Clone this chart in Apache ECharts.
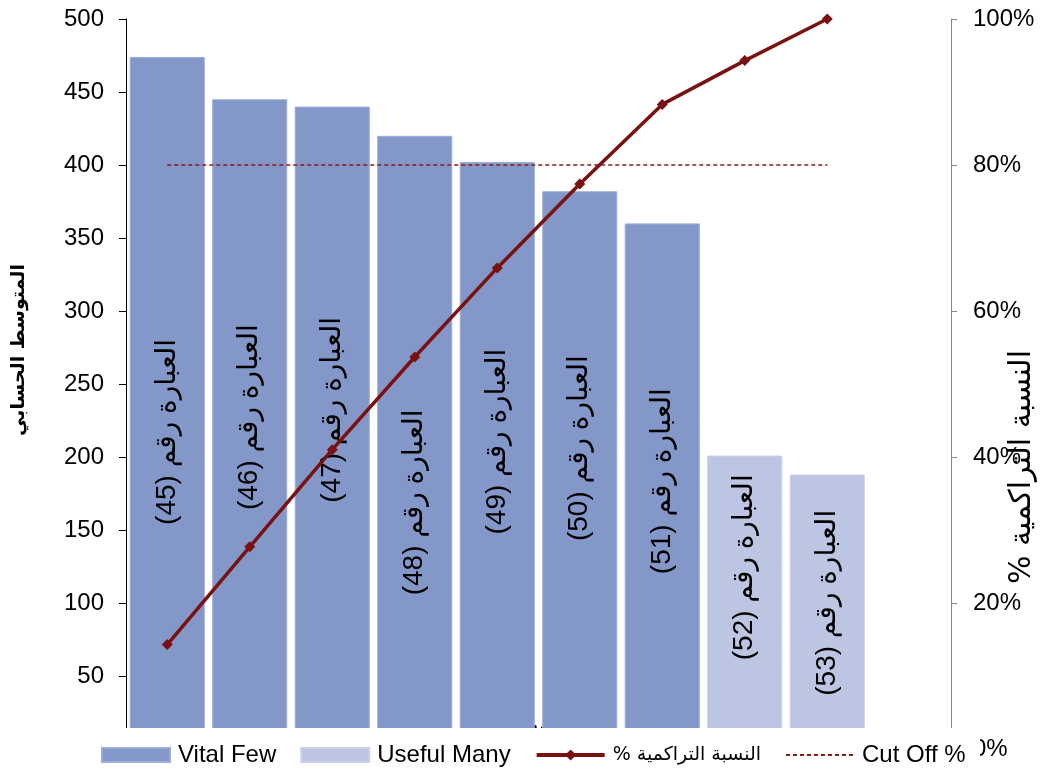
<!DOCTYPE html>
<html>
<head>
<meta charset="utf-8">
<script src="https://cdn.jsdelivr.net/npm/echarts@6/dist/echarts.min.js"></script>
<style>
  html, body { margin: 0; padding: 0; background: #ffffff; }
  #chart { width: 1046px; height: 769px; }
</style>
</head>
<body>
<div id="chart"></div>
<script>
// Pareto chart: mean score per statement with cumulative percentage
const categories = [
  'العبارة رقم (45)', 'العبارة رقم (46)', 'العبارة رقم (47)',
  'العبارة رقم (48)', 'العبارة رقم (49)', 'العبارة رقم (50)',
  'العبارة رقم (51)', 'العبارة رقم (52)', 'العبارة رقم (53)', ''
];
const vitalFew   = [474, 445, 440, 420, 402, 382, 360, '-', '-', '-'];
const usefulMany = ['-', '-', '-', '-', '-', '-', '-', 201, 188, '-'];
const cumulativePct = [14.3, 27.7, 41.0, 53.7, 65.9, 77.4, 88.3, 94.3, 100, '-'];
const cutOffPct = [80, 80, 80, 80, 80, 80, 80, 80, 80, '-'];

const leftAxisTitle = 'المتوسط الحسابي';
const rightAxisTitle = 'النسبة التراكمية %';
const xAxisTitle = 'الأبعاد';
const seriesNames = ['Vital Few', 'Useful Many', 'النسبة التراكمية %', 'Cut Off %'];

// vertical shift (px, downwards) of each rotated bar caption from the bar centre
const captionShift = [29, -7, -18, 60, -14, -22, -5, -35, -9, 0];

// wrap Arabic strings in a right-to-left embedding so punctuation lands correctly
const rtl = s => '\u202B' + s + '\u202C';

const RED = '#7a1111';
const arFont = 'DejaVu Sans, Liberation Sans, sans-serif';
const latFont = 'Liberation Sans, Arial, DejaVu Sans, sans-serif';

function barData(values) {
  return values.map((v, i) => ({
    value: v,
    // offset is applied before the 90° turn, so x here moves the caption vertically
    label: { offset: [-captionShift[i], 0] }
  }));
}

const barLabel = {
  show: true,
  position: 'inside',
  rotate: 90,
  color: '#000',
  fontSize: 28,
  fontFamily: latFont,
  formatter: p => rtl(p.name)
};

const chart = echarts.init(document.getElementById('chart'), null, { renderer: 'canvas' });
chart.setOption({
  backgroundColor: '#ffffff',
  animation: false,
  grid: {
    left: 126, right: 95, top: 19, bottom: 20,
    containLabel: false,
    outerBoundsMode: 'none'
  },
  legend: {
    left: 96,
    top: 738,
    itemWidth: 68,
    itemHeight: 14,
    itemGap: 24,
    z: 10,
    textStyle: {
      color: '#000', fontSize: 24, fontFamily: latFont, padding: [0, 0, 0, 3],
      rich: { ar: { fontSize: 19, fontFamily: arFont, color: '#000' } }
    },
    formatter: name => (/[\u0600-\u06FF]/.test(name) ? '{ar|' + rtl(name) + '}' : name),
    data: [
      { name: seriesNames[0], icon: 'rect' },
      { name: seriesNames[1], icon: 'rect' },
      { name: seriesNames[2], lineStyle: { width: 4 } },
      { name: seriesNames[3], itemStyle: { opacity: 0, borderWidth: 0 } }
    ]
  },
  xAxis: {
    type: 'category',
    data: categories,
    boundaryGap: true,
    axisLine: { show: true, lineStyle: { color: '#000' } },
    axisTick: { show: false },
    axisLabel: { show: false },
    name: xAxisTitle,
    nameLocation: 'middle',
    nameGap: -33,
    nameTextStyle: { fontSize: 22, fontWeight: 'bold', fontFamily: arFont, color: '#000' }
  },
  yAxis: [
    {
      type: 'value',
      min: 0, max: 500, interval: 50,
      position: 'left',
      axisLine: { show: true, lineStyle: { color: '#000', width: 1 } },
      axisTick: { show: true, inside: false, length: 7, lineStyle: { color: '#000' } },
      splitLine: { show: false },
      axisLabel: { color: '#000', fontSize: 24, fontFamily: latFont, margin: 22 },
      name: leftAxisTitle,
      nameLocation: 'middle',
      nameRotate: 90,
      nameGap: 97,
      nameTextStyle: {
        fontSize: 19, fontWeight: 'bold', fontFamily: arFont, color: '#000',
        padding: [0, 0, 0, 68]
      }
    },
    {
      type: 'value',
      min: 0, max: 100, interval: 20,
      position: 'right',
      axisLine: { show: true, lineStyle: { color: '#868686', width: 1 } },
      axisTick: { show: true, inside: false, length: 6, lineStyle: { color: '#868686' } },
      splitLine: { show: false },
      axisLabel: { color: '#000', fontSize: 24, fontFamily: latFont, margin: 22, formatter: '{value}%' },
      name: rtl(rightAxisTitle),
      nameLocation: 'middle',
      nameRotate: 90,
      nameGap: 56,
      nameMoveOverlap: false,
      nameTextStyle: {
        fontSize: 30, fontFamily: arFont, color: '#000',
        padding: [0, 166, 0, 0]
      }
    }
  ],
  graphic: [
    {
      // the legend strip hides the lowest part of the plot
      type: 'rect',
      z: 3,
      shape: { x: 0, y: 728, width: 980, height: 41 },
      style: { fill: '#ffffff' }
    }
  ],
  series: [
    {
      name: seriesNames[0],
      type: 'bar',
      data: barData(vitalFew),
      barGap: '-100%',
      barCategoryGap: '9%',
      itemStyle: { color: '#8497c9', borderColor: '#9dadd8', borderWidth: 1 },
      label: barLabel
    },
    {
      name: seriesNames[1],
      type: 'bar',
      data: barData(usefulMany),
      barGap: '-100%',
      barCategoryGap: '9%',
      itemStyle: { color: '#bcc6e2', borderColor: '#cad2ea', borderWidth: 1 },
      label: barLabel
    },
    {
      name: seriesNames[2],
      type: 'line',
      yAxisIndex: 1,
      data: cumulativePct,
      z: 5,
      symbol: 'diamond',
      symbolSize: 11,
      showAllSymbol: true,
      lineStyle: { color: RED, width: 3.5 },
      itemStyle: { color: RED }
    },
    {
      name: seriesNames[3],
      type: 'line',
      yAxisIndex: 1,
      data: cutOffPct,
      z: 5,
      symbol: 'none',
      lineStyle: { color: '#8b1a1a', width: 1.5, type: [4, 3] },
      itemStyle: { color: '#8b1a1a' }
    }
  ]
});
</script>
</body>
</html>
